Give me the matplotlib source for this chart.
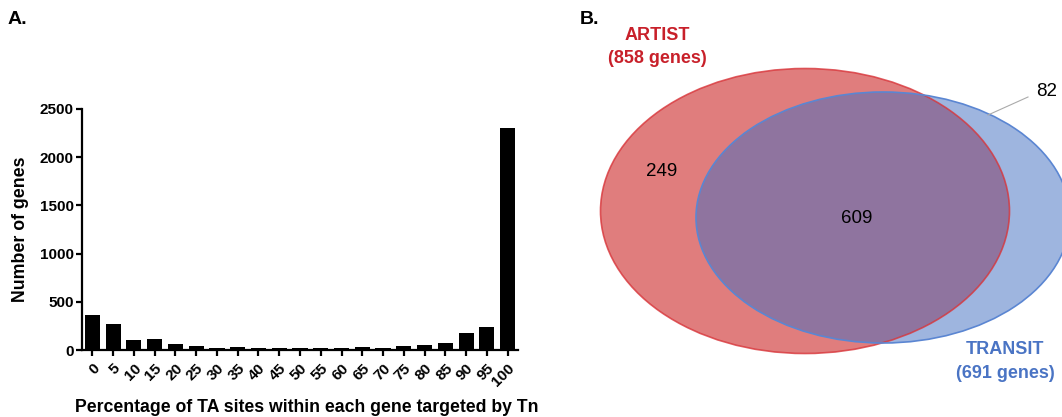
import matplotlib.pyplot as plt
from matplotlib.patches import Ellipse

plt.rcParams['font.family'] = ['Liberation Sans', 'DejaVu Sans']

# panel A data
pct_labels = ['0', '5', '10', '15', '20', '25', '30', '35', '40', '45', '50',
              '55', '60', '65', '70', '75', '80', '85', '90', '95', '100']
n_genes = [364, 267, 104, 111, 59, 38, 21, 31, 24, 24, 24,
           17, 17, 28, 17, 42, 48, 69, 180, 235, 2306]

# panel B data
artist_only = 249
shared = 609
transit_only = 82
artist_total = 858
transit_total = 691

W, H = 1062, 417
fig = plt.figure(figsize=(W / 100, H / 100), dpi=100)

# ---- A. histogram
ax = fig.add_axes([82 / W, (H - 350) / H, (518 - 82) / W, (350 - 109) / H])
x = range(len(n_genes))
ax.bar(x, n_genes, width=0.73, color='black')
ax.set_xlim(-0.5, len(n_genes) - 0.5)
ax.set_ylim(0, 2500)
ax.set_yticks([0, 500, 1000, 1500, 2000, 2500])
ax.set_xticks(list(x))
ax.set_xticklabels(pct_labels, rotation=45, ha='right', rotation_mode='anchor')
for s in ['top', 'right']:
    ax.spines[s].set_visible(False)
for s in ['left', 'bottom']:
    ax.spines[s].set_linewidth(1.6)
ax.tick_params(width=1.6, length=4, labelsize=11, pad=2)
ax.tick_params(axis='x', pad=4)
for t in ax.get_xticklabels() + ax.get_yticklabels():
    t.set_fontweight('bold')
ax.set_ylabel('Number of genes', fontsize=12.8, fontweight='bold', labelpad=8)
fig.text(75 / W, 1 - 408 / H, 'Percentage of TA sites within each gene targeted by Tn',
         fontsize=12.7, fontweight='bold', va='center', ha='left')
fig.text(8 / W, 1 - 20 / H, 'A.', fontsize=14, fontweight='bold', va='center')

# ---- B. venn
bx = fig.add_axes([580 / W, 0, (W - 580) / W, 1])
bx.set_xlim(580, W)
bx.set_ylim(H, 0)
bx.axis('off')

red_face = '#e07d7d'
red_edge = '#d8353a'
blue_face = '#3f6dc1'
blue_edge = '#5b86d2'

bx.add_patch(Ellipse((805, 211), 409, 285, facecolor=red_face, edgecolor='none'))
bx.add_patch(Ellipse((883, 217.5), 374, 251, facecolor=blue_face, alpha=0.5,
                     edgecolor='none'))
bx.add_patch(Ellipse((805, 211), 409, 285, facecolor='none', edgecolor=red_edge,
                     lw=1.2, alpha=0.8))
bx.add_patch(Ellipse((883, 217.5), 374, 251, facecolor='none', edgecolor=blue_edge,
                     lw=1.2))

bx.text(662, 171, str(artist_only), fontsize=13.5, ha='center', va='center')
bx.text(857, 218, str(shared), fontsize=13.5, ha='center', va='center')
bx.text(1047, 91, str(transit_only), fontsize=13.5, ha='center', va='center')
bx.plot([1028, 988], [97, 115], color='#aaaaaa', lw=0.8)

bx.text(657, 35, 'ARTIST', color='#c8202a',
        fontsize=13, fontweight='bold', ha='center', va='center')
bx.text(657, 58, '(' + str(artist_total) + ' genes)', color='#c8202a',
        fontsize=13, fontweight='bold', ha='center', va='center')
bx.text(1005, 350, 'TRANSIT', color='#4a74c4',
        fontsize=13, fontweight='bold', ha='center', va='center')
bx.text(1005, 373, '(' + str(transit_total) + ' genes)', color='#4a74c4',
        fontsize=13, fontweight='bold', ha='center', va='center')
fig.text(580 / W, 1 - 20 / H, 'B.', fontsize=14, fontweight='bold', va='center')

fig.savefig('out.png', dpi=100)
